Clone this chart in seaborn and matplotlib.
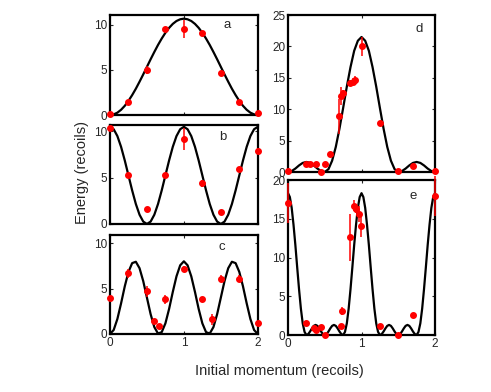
import numpy as np
import seaborn as sns
from matplotlib import pyplot as plt

# measured points (x, energy, error)
a_x = [0, 0.25, 0.5, 0.75, 1.0, 1.25, 1.5, 1.75, 2.0]
a_y = [0.1, 1.5, 5.0, 9.6, 9.5, 9.1, 4.7, 1.4, 0.2]
a_err = [0.2, 0.2, 0.4, 0.2, 1.0, 0.2, 0.2, 0.2, 0.2]

b_x = [0, 0.25, 0.5, 0.75, 1.0, 1.25, 1.5, 1.75, 2.0]
b_y = [10.4, 5.3, 1.6, 5.3, 9.2, 4.4, 1.3, 5.9, 7.9]
b_err = [0.2, 0.2, 0.2, 0.2, 1.2, 0.4, 0.2, 0.2, 0.3]

c_x = [0, 0.25, 0.5, 0.59, 0.66, 0.75, 1.0, 1.25, 1.38, 1.5, 1.75, 2.0]
c_y = [4.0, 6.7, 4.7, 1.4, 0.9, 3.8, 7.2, 3.9, 1.6, 6.1, 6.1, 1.2]
c_err = [0.2, 0.5, 0.6, 0.2, 0.2, 0.5, 0.3, 0.2, 0.6, 0.4, 0.4, 0.2]

d_x = [0, 0.25, 0.3, 0.38, 0.45, 0.5, 0.57, 0.70, 0.72, 0.75, 0.84, 0.88, 0.91,
       1.0, 1.25, 1.5, 1.7, 2.0]
d_y = [0.1, 1.2, 1.2, 1.3, 0.05, 1.3, 2.9, 8.9, 12.1, 12.6, 14.2, 14.4, 14.6,
       20.0, 7.8, 0.1, 0.9, 0.1]
d_err = [0.2, 0.2, 0.2, 0.2, 0.2, 0.2, 0.3, 2.8, 1.5, 0.5, 0.5, 0.5, 0.7,
         1.5, 0.3, 0.2, 0.2, 0.2]

e_x = [0, 0.25, 0.35, 0.38, 0.45, 0.5, 0.72, 0.74, 0.84, 0.90, 0.92, 0.97, 0.99,
       1.25, 1.5, 1.7, 2.0]
e_y = [17.0, 1.5, 0.9, 0.7, 1.0, 0.0, 1.2, 3.1, 12.6, 16.7, 16.3, 15.6, 14.1,
       1.2, 0.0, 2.6, 17.9]
e_err = [2.6, 0.2, 0.2, 0.2, 0.2, 0.2, 0.2, 0.5, 3.0, 0.7, 0.5, 1.0, 1.4,
         0.2, 0.2, 0.2, 2.6]

# theory curves (a-d every 0.05, e every 0.025)
a_curve = [0, 0.07, 0.26, 0.58, 1.02, 1.57, 2.21, 2.92, 3.70, 4.51, 5.35, 6.19, 7.00,
           7.78, 8.49, 9.13, 9.68, 10.12, 10.44, 10.63, 10.70, 10.63, 10.44, 10.12,
           9.68, 9.13, 8.49, 7.78, 7.00, 6.19, 5.35, 4.51, 3.70, 2.92, 2.21, 1.57,
           1.02, 0.58, 0.26, 0.07, 0]
b_curve = [10.5, 10.24, 9.50, 8.34, 6.87, 5.25, 3.63, 2.16, 1.00, 0.26, 0, 0.26, 1.00,
           2.16, 3.63, 5.25, 6.87, 8.34, 9.50, 10.24, 10.5, 10.24, 9.50, 8.34, 6.87,
           5.25, 3.63, 2.16, 1.00, 0.26, 0, 0.26, 1.00, 2.16, 3.63, 5.25, 6.87, 8.34,
           9.50, 10.24, 10.5]
c_curve = [0, 0.44, 1.65, 3.37, 5.24, 6.83, 7.80, 7.95, 7.24, 5.82, 4.00, 2.18, 0.76,
           0.05, 0.20, 1.17, 2.76, 4.63, 6.35, 7.56, 8.00, 7.56, 6.35, 4.63, 2.76, 1.17,
           0.20, 0.05, 0.76, 2.18, 4.00, 5.82, 7.24, 7.95, 7.80, 6.83, 5.24, 3.37, 1.65,
           0.44, 0]
d_curve = [0, 0.15, 0.55, 1.05, 1.45, 1.6, 1.45, 1.05, 0.55, 0.15, 0, 0.45, 1.8, 4.0,
           6.9, 10.2, 13.6, 16.7, 19.3, 20.9, 21.5, 20.9, 19.3, 16.7, 13.6, 10.2, 6.9,
           4.0, 1.8, 0.45, 0, 0.15, 0.55, 1.05, 1.45, 1.6, 1.45, 1.05, 0.55, 0.15, 0]
e_curve = [18.3, 17.8, 16.4, 14.2, 11.6, 8.7, 5.9, 3.4, 1.5, 0.4, 0, 0.12, 0.45, 0.85,
           1.18, 1.3, 1.18, 0.85, 0.45, 0.12, 0, 0.12, 0.45, 0.85, 1.18, 1.3, 1.18,
           0.85, 0.45, 0.12, 0, 0.4, 1.5, 3.4, 5.9, 8.7, 11.6, 14.2, 16.4, 17.8, 18.3,
           17.8, 16.4, 14.2, 11.6, 8.7, 5.9, 3.4, 1.5, 0.4, 0, 0.12, 0.45, 0.85, 1.18,
           1.3, 1.18, 0.85, 0.45, 0.12, 0, 0.12, 0.45, 0.85, 1.18, 1.3, 1.18, 0.85,
           0.45, 0.12, 0, 0.4, 1.5, 3.4, 5.9, 8.7, 11.6, 14.2, 16.4, 17.8, 18.3]

sns.set_style("ticks")
plt.rcParams['font.family'] = ['Liberation Sans', 'DejaVu Sans']

fig = plt.figure(figsize=(4.91, 3.92), dpi=100)

panels = [
    # rect, xs, ys, err, curve, ylim, yticks, letter pos, show x labels
    ([0.224, 0.7066, 0.301, 0.255], a_x, a_y, a_err, a_curve, 11.1, [0, 5, 10], "a", (0.79, 0.90), False),
    ([0.224, 0.4286, 0.301, 0.2526], b_x, b_y, b_err, b_curve, 10.7, [0, 5, 10], "b", (0.76, 0.88), False),
    ([0.224, 0.148, 0.301, 0.2526], c_x, c_y, c_err, c_curve, 10.9, [0, 5, 10], "c", (0.76, 0.88), True),
    ([0.5866, 0.5612, 0.2994, 0.4005], d_x, d_y, d_err, d_curve, 25, [0, 5, 10, 15, 20, 25], "d", (0.89, 0.91), False),
    ([0.5866, 0.1454, 0.2994, 0.3954], e_x, e_y, e_err, e_curve, 20, [0, 5, 10, 15, 20], "e", (0.85, 0.90), True),
]

for rect, xs, ys, err, curve, ytop, yt, letter, lpos, xlab in panels:
    ax = fig.add_axes(rect)
    grid = np.linspace(0, 2, len(curve))
    sns.lineplot(x=grid, y=curve, ax=ax, color="black", lw=1.6, zorder=2)
    ax.errorbar(xs, ys, yerr=err, fmt="o", color="red", ms=4, elinewidth=1.1,
                capsize=0, clip_on=False, zorder=3)
    ax.set_xlim(0, 2)
    ax.set_ylim(0, ytop)
    ax.set_xticks([0, 1, 2])
    ax.set_yticks(yt)
    if not xlab:
        ax.set_xticklabels([])
    ax.tick_params(direction="in", length=2.5, width=0.8, labelsize=8.5, pad=2,
                   top=True, right=True)
    for s in ax.spines.values():
        s.set_linewidth(1.6)
        s.set_color("black")
    ax.text(lpos[0], lpos[1], letter, transform=ax.transAxes, ha="center",
            va="center", fontsize=9.5)

fig.text(0.167, 0.559, "Energy (recoils)", rotation=90, ha="center", va="center",
         fontsize=10.5)
fig.text(0.570, 0.054, "Initial momentum (recoils)", ha="center", va="center",
         fontsize=10.5)

plt.savefig("out.png", dpi=100)
